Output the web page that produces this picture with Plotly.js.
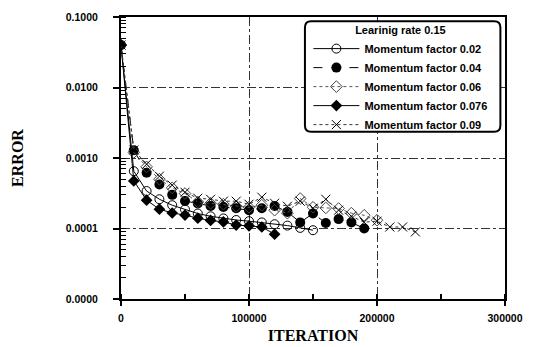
<!DOCTYPE html>
<html>
<head>
<meta charset="utf-8">
<script src="https://cdn.plot.ly/plotly-3.0.1.min.js"></script>
<style>html,body{margin:0;padding:0;background:#fff;}#chart{width:537px;height:347px;}</style>
</head>
<body>
<div id="chart"></div>
<script>
// Iterations and errors
const iter02 = [0,10000,20000,30000,40000,50000,60000,70000,80000,90000,100000,110000,120000,130000,140000,150000];
const err02  = [0.04,0.00065,0.00034,0.00026,0.000214,0.000186,0.000163,0.000149,0.000139,0.000132,0.000127,0.000122,0.000115,0.00011,0.000102,0.0000946];

const iter04 = [0,10000,20000,30000,40000,50000,60000,70000,80000,90000,100000,110000,120000,130000,140000,150000,160000,170000,180000,190000];
const err04  = [0.04,0.00129,0.000616,0.000421,0.0003,0.000246,0.000226,0.000209,0.000202,0.000194,0.000182,0.000194,0.000209,0.000172,0.000122,0.000163,0.00012,0.000136,0.000122,0.0001];

const iter06 = [0,10000,20000,30000,40000,50000,60000,70000,80000,90000,100000,110000,120000,130000,140000,150000,160000,170000,180000,190000,200000];
const err06  = [0.04,0.0012,0.000748,0.0005,0.000377,0.000313,0.000238,0.000228,0.000221,0.000207,0.0002,0.000214,0.000182,0.000165,0.000266,0.0002,0.000196,0.000192,0.000165,0.000154,0.000131];

const iter076 = [0,10000,20000,30000,40000,50000,60000,70000,80000,90000,100000,110000,120000];
const err076  = [0.04,0.000473,0.000252,0.000188,0.000166,0.000155,0.00014,0.00013,0.000124,0.000112,0.000109,0.000105,0.000083];

const iter09 = [0,10000,20000,30000,40000,50000,60000,70000,80000,90000,100000,110000,120000,130000,140000,150000,160000,170000,180000,190000,200000,210000,220000,230000];
const err09  = [0.04,0.0013,0.000817,0.000552,0.000412,0.000327,0.000269,0.00026,0.000244,0.000244,0.000221,0.000278,0.000228,0.000207,0.000244,0.000194,0.00026,0.000182,0.000149,0.000123,0.000127,0.000105,0.000105,0.0000895];

const seriesNames = ['Momentum factor 0.02','Momentum factor 0.04','Momentum factor 0.06','Momentum factor 0.076','Momentum factor 0.09'];
const legendTitle = 'Learinig rate 0.15';
const xTickVals = [0,100000,200000,300000];
const xTickText = ['0','100000','200000','300000'];
const yTickVals = [0.1,0.01,0.001,0.0001,0.00001];
const yTickText = ['0.1000','0.0100','0.0010','0.0001','0.0000'];

const lab = {family:'Liberation Sans, Arial, sans-serif', size:10.5, color:'#000', weight:'bold'};
const legFont = {family:'Liberation Sans, Arial, sans-serif', size:11, color:'#000', weight:'bold'};

const traces = [
  {x:iter02, y:err02, name:seriesNames[0], mode:'lines+markers',
   line:{color:'#000', width:1, dash:'solid'},
   marker:{symbol:'circle-open', size:9, color:'#000', line:{width:1}}},
  {x:iter04, y:err04, name:seriesNames[1], mode:'lines+markers',
   line:{color:'#000', width:1, dash:'dash'},
   marker:{symbol:'circle', size:10, color:'#000'}},
  {x:iter06, y:err06, name:seriesNames[2], mode:'lines+markers',
   line:{color:'#555', width:1, dash:'dot'},
   marker:{symbol:'diamond-open', size:9, color:'#444', line:{width:1}}},
  {x:iter076, y:err076, name:seriesNames[3], mode:'lines+markers',
   line:{color:'#000', width:1, dash:'solid'},
   marker:{symbol:'diamond', size:9, color:'#000'}},
  {x:iter09, y:err09, name:seriesNames[4], mode:'lines+markers',
   line:{color:'#333', width:1, dash:'dot'},
   marker:{symbol:'x-thin', size:9, color:'#000', line:{width:1, color:'#000'}}}
];

// rounded legend frame in paper coords
const bx0=0.479, bx1=0.988, by0=0.593, by1=0.985, rx=0.016, ry=0.022;
const framePath = `M ${bx0+rx},${by1} L ${bx1-rx},${by1} Q ${bx1},${by1} ${bx1},${by1-ry} L ${bx1},${by0+ry} Q ${bx1},${by0} ${bx1-rx},${by0} L ${bx0+rx},${by0} Q ${bx0},${by0} ${bx0},${by0+ry} L ${bx0},${by1-ry} Q ${bx0},${by1} ${bx0+rx},${by1} Z`;

const layout = {
  width:537, height:347,
  margin:{l:121, r:32, t:17, b:48},
  paper_bgcolor:'#fff', plot_bgcolor:'#fff',
  showlegend:true,
  xaxis:{
    range:[0,300000], tickmode:'array', tickvals:xTickVals, ticktext:xTickText,
    ticks:'outside', ticklen:5, tickwidth:2, tickcolor:'#000',
    showline:true, linewidth:2, linecolor:'#000', mirror:true,
    showgrid:true, gridcolor:'#333', gridwidth:1, griddash:'dashdot',
    zeroline:false, tickfont:lab, ticklabelstandoff:3,
    minor:{dtick:50000, ticks:'inside', ticklen:5, tickwidth:1.5, tickcolor:'#000', showgrid:false},
    title:{text:'ITERATION', standoff:7, font:{family:'Liberation Serif, Times New Roman, serif', size:16, color:'#000', weight:'bold'}}
  },
  yaxis:{
    type:'log', range:[-5,-1], tickmode:'array', tickvals:yTickVals, ticktext:yTickText,
    ticks:'outside', ticklen:6, tickwidth:2, tickcolor:'#000',
    showline:true, linewidth:2, linecolor:'#000', mirror:true,
    showgrid:true, gridcolor:'#333', gridwidth:1, griddash:'dashdot',
    zeroline:false, tickfont:lab, ticklabelstandoff:13,
    minor:{dtick:'D1', ticks:'inside', ticklen:5, tickwidth:1, tickcolor:'#000', showgrid:false},
    title:{text:'ERROR', standoff:38, font:{family:'Liberation Serif, Times New Roman, serif', size:16, color:'#000', weight:'bold'}}
  },
  shapes:[
    {type:'path', xref:'paper', yref:'paper', path:framePath, fillcolor:'#fff', line:{color:'#000', width:2}, layer:'above'}
  ],
  legend:{
    x:0.488, y:0.99, xanchor:'left', yanchor:'top',
    bgcolor:'rgba(0,0,0,0)', borderwidth:0,
    font:legFont, itemwidth:46, tracegroupgap:0,
    title:{text:legendTitle, side:'top center', font:legFont}
  }
};

Plotly.newPlot('chart', traces, layout, {displayModeBar:false, staticPlot:true});
</script>
</body>
</html>
